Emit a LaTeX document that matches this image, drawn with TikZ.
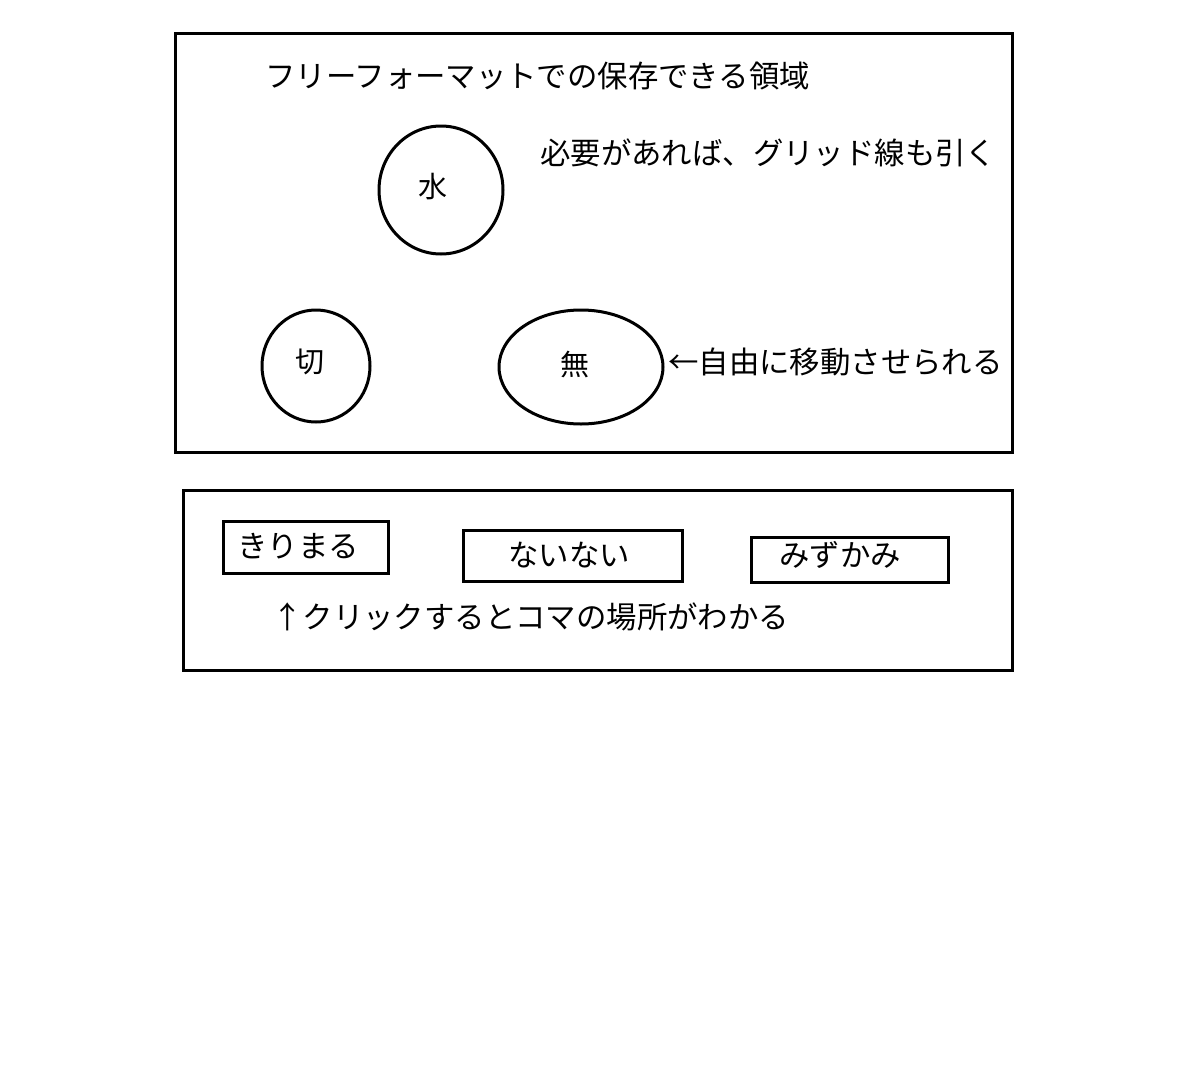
\documentclass[tikz,border=0pt]{standalone}
\usepackage{fontspec}
\setmainfont{Noto Sans CJK JP}
\begin{document}
\begin{tikzpicture}[x=1pt,y=-1pt,
  frame/.style={draw=black,line width=3pt},
  piece/.style={draw=black,line width=3pt},
  lbl/.style={inner sep=0pt,font=\fontsize{29}{33}\selectfont},
  note/.style={inner sep=0pt,anchor=west,font=\fontsize{30.4}{35}\selectfont}]
\useasboundingbox[fill=white] (0,0) rectangle (1200,1071);
% frames
\draw[frame] (175,33) rectangle (1012,452);
\draw[frame] (183,490) rectangle (1012,670);
% texts top
\node[note] (title) at (265,76) {フリーフォーマットでの保存できる領域};
\node[note] (grid) at (540,153) {必要があれば、グリッド線も引く};
% pieces
\draw[piece] (441,190) ellipse [x radius=62, y radius=64];
\node[lbl] (mizu) at (433,187) {水};
\draw[piece] (316,366) ellipse [x radius=54, y radius=56];
\node[lbl] (kiri) at (310,362) {切};
\draw[piece] (581,367) ellipse [x radius=82, y radius=57];
\node[lbl] (mu) at (575,365) {無};
\node[note] (move) at (668,362) {←自由に移動させられる};
% buttons
\draw[piece] (223,521) rectangle (388,573);
\node[note] (b1) at (237,546) {きりまる};
\draw[piece] (463,530) rectangle (682,581);
\node[note] (b2) at (508,555) {ないない};
\draw[piece] (751,537) rectangle (948,582);
\node[note] (b3) at (779,555) {みずかみ};
\node[note] (click) at (272,617) {↑クリックするとコマの場所がわかる};
\end{tikzpicture}
\end{document}
